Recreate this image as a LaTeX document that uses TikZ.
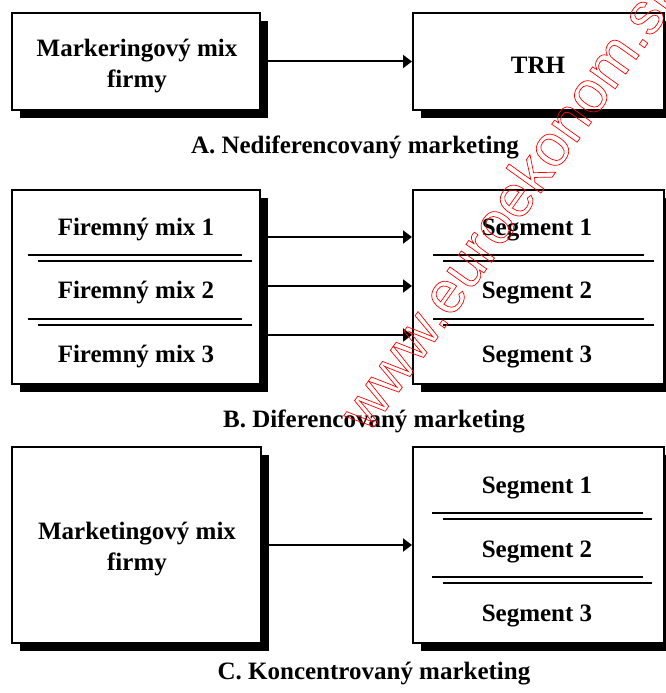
\documentclass[tikz,border=0pt]{standalone}
\usepackage{fontspec}
\setmainfont{Liberation Serif}
\newfontfamily\wmfont{Liberation Sans}
\usetikzlibrary{arrows.meta,shadows}
\newcommand\outlinetext[1]{\special{pdf:literal direct 1 Tr 0.7 w}#1\special{pdf:literal direct 0 Tr}}

\begin{document}
\begin{tikzpicture}[x=1pt, y=-1pt,
	box/.style={draw, fill=white, line width=2pt, general shadow={fill=black, shadow xshift=8pt, shadow yshift=-8pt}},
	txt/.style={font=\fontsize{25}{31}\selectfont\bfseries, align=center, inner sep=0pt},
	arr/.style={-{Triangle[length=9pt, width=13pt]}, line width=2pt},
	sep/.style={line width=2pt},
	wm/.style={font=\wmfont\fontsize{59}{59}\selectfont, text=red, inner sep=0pt}]

	\useasboundingbox (0, 0) rectangle (665, 693);

	% A. Nediferencovany marketing
	\node[box, minimum width=248pt, minimum height=97pt] (mixA) at (136, 61.5) {};
	\node[box, minimum width=251pt, minimum height=97pt] (trhA) at (538.5, 61.5) {};
	\node[txt] (mixAtxt) at (137, 66.5) {Markeringový mix\\firmy};
	\node[txt, anchor=base] (trh) at (538, 74) {TRH};
	\draw[arr] (mixA.east) -- (trhA.west);
	\node[txt, anchor=base] (capA) at (355, 153) {A. Nediferencovaný marketing};

	% B. Diferencovany marketing
	\node[box, minimum width=248pt, minimum height=194pt] (mixB) at (136, 287) {};
	\node[box, minimum width=251pt, minimum height=194pt] (segB) at (538.5, 287) {};
	\node[txt, anchor=base] (fm1) at (136, 235) {Firemný mix 1};
	\node[txt, anchor=base] (fm2) at (136, 298) {Firemný mix 2};
	\node[txt, anchor=base] (fm3) at (136, 362) {Firemný mix 3};
	\node[txt, anchor=base] (sb1) at (537, 235) {Segment 1};
	\node[txt, anchor=base] (sb2) at (537, 298) {Segment 2};
	\node[txt, anchor=base] (sb3) at (537, 362) {Segment 3};
	\foreach \y in {255, 319} {
		\draw[sep] (28, \y) -- (242, \y);
		\draw[sep] (38, \y+6) -- (252, \y+6);
		\draw[sep] (433, \y) -- (644, \y);
		\draw[sep] (443, \y+6) -- (654, \y+6);
	}
	\foreach \s in {50, 1, -48}
		\draw[arr] ([yshift=\s pt]mixB.east) -- ([yshift=\s pt]segB.west);
	\node[txt, anchor=base] (capB) at (374, 427) {B. Diferencovaný marketing};

	% C. Koncentrovany marketing
	\node[box, minimum width=249pt, minimum height=196pt] (mixC) at (136, 545) {};
	\node[box, minimum width=251pt, minimum height=196pt] (segC) at (538.5, 545) {};
	\node[txt] (mixCtxt) at (137, 549) {Marketingový mix\\firmy};
	\node[txt, anchor=base] (sc1) at (537, 493) {Segment 1};
	\node[txt, anchor=base] (sc2) at (537, 557) {Segment 2};
	\node[txt, anchor=base] (sc3) at (537, 621) {Segment 3};
	\foreach \y in {513, 577} {
		\draw[sep] (432, \y) -- (643, \y);
		\draw[sep] (443, \y+6) -- (652, \y+6);
	}
	\draw[arr] (mixC.east) -- (segC.west);
	\node[txt, anchor=base] (capC) at (374, 679) {C. Koncentrovaný marketing};

	% watermark
	\node[wm, rotate=54.5, anchor=base west] (wmark) at (369, 434)
		{\outlinetext{www.euroekonom.sk}};
\end{tikzpicture}
\end{document}
